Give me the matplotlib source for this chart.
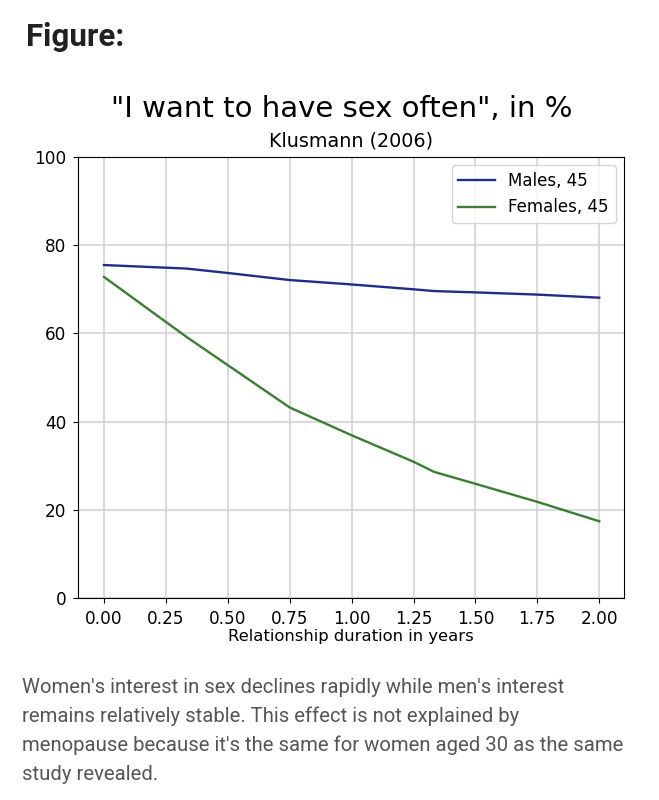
import matplotlib.pyplot as plt

# duration in years, share in %
years = [0, 1/3, 0.5, 0.75, 1.0, 1.25, 1.333, 1.5, 1.75, 2.0]
males = [75.5, 74.7, 73.7, 72.1, 71.1, 70.0, 69.6, 69.3, 68.8, 68.1]
females = [72.8, 59.2, 52.8, 43.2, 36.9, 30.9, 28.6, 25.9, 21.8, 17.4]
yticks = [0, 20, 40, 60, 80, 100]
xticks = [0, 0.25, 0.5, 0.75, 1.0, 1.25, 1.5, 1.75, 2.0]

caption = ("Women's interest in sex declines rapidly while men's interest\n"
           "remains relatively stable. This effect is not explained by\n"
           "menopause because it's the same for women aged 30 as the same\n"
           "study revealed.")

fig = plt.figure(figsize=(6.59, 8), dpi=100)
fig.text(26/659, 1 - 37/800, "Figure:", family="Roboto", fontweight="bold",
         fontsize=22.5, color="#212121", va="center")
fig.text(22/659, 1 - 731/800, caption, family="Roboto", fontsize=14.6,
         color="#555555", va="center", linespacing=1.62)

ax = fig.add_axes([78/659, 1 - 598/800, 546/659, 441/800])
ax.plot(years, males, color="#1f2d8a", lw=1.7, label="Males, 45")
ax.plot(years, females, color="#3b7d33", lw=1.7, label="Females, 45")
ax.set_ylim(0, 100)
ax.set_xlim(-0.105, 2.1)
ax.set_yticks(yticks)
ax.set_xticks(xticks)
ax.set_xticklabels(["%.2f" % t for t in xticks])
ax.tick_params(labelsize=12.2, pad=5)
ax.grid(True, color="#cfcfcf", lw=1.1)
ax.set_xlabel("Relationship duration in years", fontsize=11.8, labelpad=1)
ax.legend(loc="upper right", fontsize=12, handlelength=2.2)

fig.text(342/659, 1 - 109/800, '"I want to have sex often", in %', fontsize=21,
         ha="center", va="center")
fig.text(351/659, 1 - 141/800, "Klusmann (2006)", fontsize=13.8, ha="center",
         va="center")

fig.savefig("out.png", dpi=100)
